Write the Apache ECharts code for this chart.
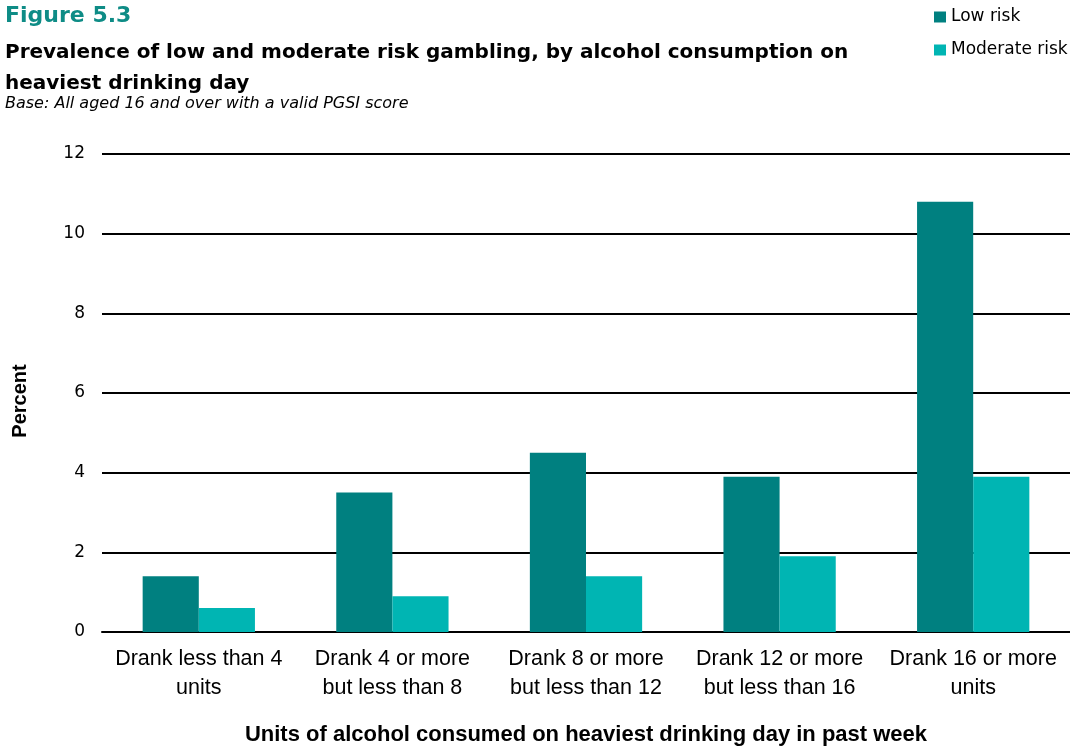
<!DOCTYPE html>
<html>
<head>
<meta charset="utf-8">
<script src="https://cdn.jsdelivr.net/npm/echarts@6/dist/echarts.min.js"></script>
<style>
  html, body { margin: 0; padding: 0; background: #fff; }
  #chart { width: 1070px; height: 751px; }
</style>
</head>
<body>
<div id="chart"></div>
<script>
// Alcohol consumption groups on heaviest drinking day
const categories = [
  'Drank less than 4\nunits',
  'Drank 4 or more\nbut less than 8',
  'Drank 8 or more\nbut less than 12',
  'Drank 12 or more\nbut less than 16',
  'Drank 16 or more\nunits'
];
// Percentages by PGSI risk group
const lowRisk = [1.4, 3.5, 4.5, 3.9, 10.8];
const moderateRisk = [0.6, 0.9, 1.4, 1.9, 3.9];
const seriesNames = ['Low risk', 'Moderate risk'];
const yTicks = { min: 0, max: 12, interval: 2 };

const SANS = '"Liberation Sans", Arial, sans-serif';
const WIDE = '"DejaVu Sans", "Liberation Sans", sans-serif';
const chart = echarts.init(document.getElementById('chart'));

chart.setOption({
  animation: false,
  color: ['#008080', '#00B5B3'],
  title: [
    {
      text: 'Figure 5.3',
      left: 5, top: 5,
      padding: 0,
      textStyle: { fontFamily: WIDE, fontSize: 22, fontWeight: 'bold', color: '#0E8C86' }
    },
    {
      text: 'Prevalence of low and moderate risk gambling, by alcohol consumption on\nheaviest drinking day',
      left: 5, top: 37,
      padding: 0,
      textStyle: { fontFamily: WIDE, fontSize: 20, fontWeight: 'bold', color: '#000', lineHeight: 31 }
    },
    {
      text: 'Base: All aged 16 and over with a valid PGSI score',
      left: 5, top: 96,
      padding: 0,
      textStyle: { fontFamily: WIDE, fontSize: 16, fontStyle: 'italic', fontWeight: 'normal', color: '#000' }
    }
  ],
  legend: {
    data: seriesNames,
    orient: 'vertical',
    left: 934, top: 7,
    padding: 0,
    itemWidth: 12, itemHeight: 11,
    itemGap: 13,
    icon: 'rect',
    textStyle: { fontFamily: WIDE, fontSize: 17, color: '#000', lineHeight: 20 }
  },
  graphic: [
    {
      type: 'text',
      x: 20, y: 401,
      rotation: Math.PI / 2,
      style: {
        text: 'Percent',
        font: 'bold 20px "Liberation Sans", Arial, sans-serif',
        fill: '#000',
        align: 'center',
        verticalAlign: 'middle'
      }
    }
  ],
  grid: { left: 102, right: -4, top: 154, bottom: 114, containLabel: false },
  xAxis: {
    type: 'category',
    data: categories,
    axisLine: { show: true, lineStyle: { color: '#000', width: 2 } },
    axisTick: { show: false },
    axisLabel: { fontFamily: SANS, fontSize: 21.5, color: '#000', lineHeight: 29, margin: 13, interval: 0 },
    name: 'Units of alcohol consumed on heaviest drinking day in past week',
    nameLocation: 'middle',
    nameGap: 92,
    nameTextStyle: { fontFamily: SANS, fontSize: 22, fontWeight: 'bold', color: '#000' }
  },
  yAxis: {
    type: 'value',
    min: yTicks.min, max: yTicks.max, interval: yTicks.interval,
    axisLine: { show: false },
    axisTick: { show: false },
    splitLine: { show: true, lineStyle: { color: '#000', width: 2 } },
    axisLabel: { fontFamily: WIDE, fontSize: 17, color: '#000', margin: 17 }
  },
  series: [
    { name: seriesNames[0], type: 'bar', data: lowRisk, barGap: '0%', barCategoryGap: '42%' },
    { name: seriesNames[1], type: 'bar', data: moderateRisk, barGap: '0%', barCategoryGap: '42%' }
  ]
});
</script>
</body>
</html>
